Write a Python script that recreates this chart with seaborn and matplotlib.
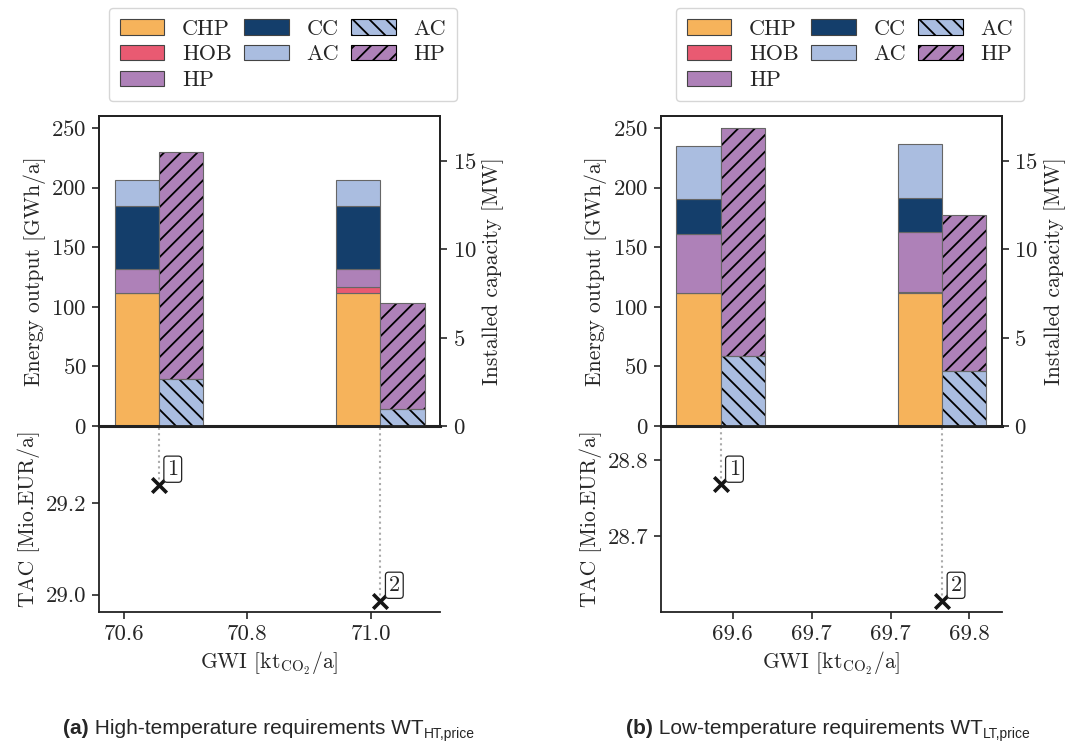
import matplotlib
matplotlib.use('Agg')
import matplotlib.pyplot as plt
from matplotlib.patches import Patch
import seaborn as sns

# technologies in the energy-output stack (bottom to top)
techs = ['CHP', 'HOB', 'HP', 'CC', 'AC']
colors = {'CHP': '#F6B35B', 'HOB': '#E95A72', 'HP': '#AE81B8',
          'CC': '#143E6B', 'AC': '#AABDE0'}

# (a) high-temperature requirements
gwi_a = [70.656, 71.016]
tac_a = [29.241, 28.987]
chp_a = [111.9, 111.6]
hob_a = [0.0, 4.8]
hp_a = [20.2, 15.7]
cc_a = [52.1, 52.1]
ac_a = [21.8, 21.8]
cap_ac_a = [2.64, 0.98]
cap_hp_a = [12.89, 5.97]
xticks_a = [70.6, 70.8, 71.0]
xticklabels_a = ['70.6', '70.8', '71.0']
yticks_a = [29.0, 29.2]
yticklabels_a = ['29.0', '29.2']

# (b) low-temperature requirements
gwi_b = [69.5924, 69.7327]
tac_b = [28.768, 28.615]
chp_b = [112.0, 112.0]
hob_b = [0.0, 0.6]
hp_b = [49.2, 50.0]
cc_b = [29.2, 28.6]
ac_b = [44.1, 45.4]
cap_ac_b = [3.98, 3.11]
cap_hp_b = [12.92, 8.85]
xticks_b = [69.60, 69.65, 69.70, 69.75]
xticklabels_b = ['69.6', '69.7', '69.7', '69.8']
yticks_b = [28.7, 28.8]
yticklabels_b = ['28.7', '28.8']

point_labels = ['1', '2']
legend_labels = ['CHP', 'HOB', 'HP', 'CC', 'AC', 'AC', 'HP']
captions = [('(a)', ' High-temperature requirements WT', 'HT,price'),
            ('(b)', ' Low-temperature requirements WT', 'LT,price')]

sns.set_theme(style='ticks')
plt.rcParams['font.family'] = ['cmr10']
plt.rcParams['mathtext.fontset'] = 'cm'
plt.rcParams['axes.formatter.use_mathtext'] = True
plt.rcParams['axes.unicode_minus'] = False
plt.rcParams['font.size'] = 15.5
plt.rcParams['axes.labelsize'] = 15.5
plt.rcParams['xtick.labelsize'] = 16.5
plt.rcParams['ytick.labelsize'] = 16.5
plt.rcParams['axes.edgecolor'] = '#222222'
plt.rcParams['axes.linewidth'] = 1.3
plt.rcParams['hatch.linewidth'] = 1.3

EDGE = '#666666'


def draw_panel(fig, left, gwi, tac, stack, cap_ac, cap_hp, xticks, xticklabels,
               yticks, yticklabels, ylim_bot):
    ax_bot = fig.add_axes([left, 0.1763, 0.318, 0.2503])
    ax_top = fig.add_axes([left, 0.4266, 0.318, 0.4172], sharex=ax_bot)
    ax_cap = ax_top.twinx()

    w = 0.2 * (gwi[1] - gwi[0])
    xs = [x - w / 2 for x in gwi]
    bottom = [0.0, 0.0]
    for tech, vals in zip(techs, stack):
        ax_top.bar(xs, vals, width=w, bottom=bottom, color=colors[tech],
                   edgecolor=EDGE, linewidth=0.8)
        bottom = [b + v for b, v in zip(bottom, vals)]

    xc = [x + w / 2 for x in gwi]
    ax_cap.bar(xc, cap_ac, width=w, color=colors['AC'], hatch='\\\\',
               edgecolor='black', linewidth=0)
    ax_cap.bar(xc, cap_hp, width=w, bottom=cap_ac, color=colors['HP'], hatch='//',
               edgecolor='black', linewidth=0)
    ax_cap.bar(xc, cap_ac, width=w, fill=False, edgecolor=EDGE, linewidth=0.8)
    ax_cap.bar(xc, cap_hp, width=w, bottom=cap_ac, fill=False, edgecolor=EDGE,
               linewidth=0.8)

    ax_top.set_ylim(0, 260)
    ax_cap.set_ylim(0, 17.55)
    ax_top.set_yticks([0, 50, 100, 150, 200, 250])
    ax_cap.set_yticks([0, 5, 10, 15])
    ax_top.set_ylabel('Energy output [GWh/a]')
    ax_cap.set_ylabel('Installed capacity [MW]')
    ax_top.tick_params(axis='x', bottom=False, labelbottom=False)
    for a in (ax_top, ax_cap):
        a.tick_params(length=5, width=1.2, pad=4)
        for s in a.spines.values():
            s.set_visible(True)
    ax_top.spines['bottom'].set_linewidth(2.2)

    # TAC vs GWI
    ax_bot.vlines(gwi, tac, ylim_bot[1], colors='#aaaaaa', linestyles=':',
                  linewidth=1.5, zorder=1)
    sns.scatterplot(x=gwi, y=tac, marker='x', s=110, color='#151515',
                    linewidth=2.6, ax=ax_bot, legend=False, zorder=3)
    for lab, x, y in zip(point_labels, gwi, tac):
        ax_bot.annotate(lab, (x, y), xytext=(6, 4), textcoords='offset points',
                        ha='left', va='bottom', fontsize=16,
                        bbox=dict(boxstyle='round,pad=0.15', fc='white',
                                  ec='#222222', lw=0.9))
    ax_bot.set_ylim(*ylim_bot)
    ax_bot.set_yticks(yticks)
    ax_bot.set_yticklabels(yticklabels)
    ax_bot.set_xticks(xticks)
    ax_bot.set_xticklabels(xticklabels)
    ax_bot.set_xlim(gwi[0] - w - 0.05 * (gwi[1] - gwi[0] + 2 * w),
                    gwi[1] + w + 0.05 * (gwi[1] - gwi[0] + 2 * w))
    ax_bot.set_ylabel('TAC [Mio.EUR/a]')
    ax_bot.set_xlabel(r'GWI [kt$_{\mathrm{CO_2}}$/a]')
    ax_bot.tick_params(length=5, width=1.2, pad=4)
    for s in ax_bot.spines.values():
        s.set_visible(True)
    ax_bot.spines['right'].set_visible(False)
    ax_bot.spines['top'].set_visible(False)

    handles = [Patch(facecolor=colors[t], edgecolor='#444444', linewidth=0.8)
               for t in techs]
    handles += [Patch(facecolor=colors['AC'], edgecolor='black', hatch='\\\\',
                      linewidth=0.8),
                Patch(facecolor=colors['HP'], edgecolor='black', hatch='//',
                      linewidth=0.8)]
    return ax_top, handles


fig = plt.figure(figsize=(10.73, 7.43), dpi=100)

panels = [
    (0.0923, gwi_a, tac_a, [chp_a, hob_a, hp_a, cc_a, ac_a], cap_ac_a, cap_hp_a,
     xticks_a, xticklabels_a, yticks_a, yticklabels_a, (28.962, 29.369)),
    (0.6158, gwi_b, tac_b, [chp_b, hob_b, hp_b, cc_b, ac_b], cap_ac_b, cap_hp_b,
     xticks_b, xticklabels_b, yticks_b, yticklabels_b, (28.600, 28.845)),
]
legend_x = [283 / 1073, 850 / 1073]
caption_x = [63 / 1073, 626 / 1073]

for i, p in enumerate(panels):
    ax_top, handles = draw_panel(fig, *p)
    fig.legend(handles, legend_labels, ncol=3, loc='upper center',
               bbox_to_anchor=(legend_x[i], 1 - 8 / 743), fontsize=16,
               handlelength=2.0, handleheight=0.7, handletextpad=0.8,
               columnspacing=0.55, labelspacing=0.28, frameon=True,
               fancybox=True, edgecolor='#cccccc', borderpad=0.5,
               borderaxespad=0)

    bold, rest, sub = captions[i]
    t1 = fig.text(caption_x[i], 1 - 734 / 743, bold, fontsize=15,
                  family='Liberation Sans', weight='bold', va='baseline')
    t2 = plt.annotate(rest, xy=(1, 0), xycoords=t1, fontsize=15,
                      family='Liberation Sans', va='bottom', ha='left',
                      annotation_clip=False)
    plt.annotate(sub, xy=(1, 0), xycoords=t2, xytext=(0.3, -2.5),
                 textcoords='offset points', fontsize=10,
                 family='Liberation Sans', va='bottom', ha='left',
                 annotation_clip=False)

fig.savefig('out.png', dpi=100)
